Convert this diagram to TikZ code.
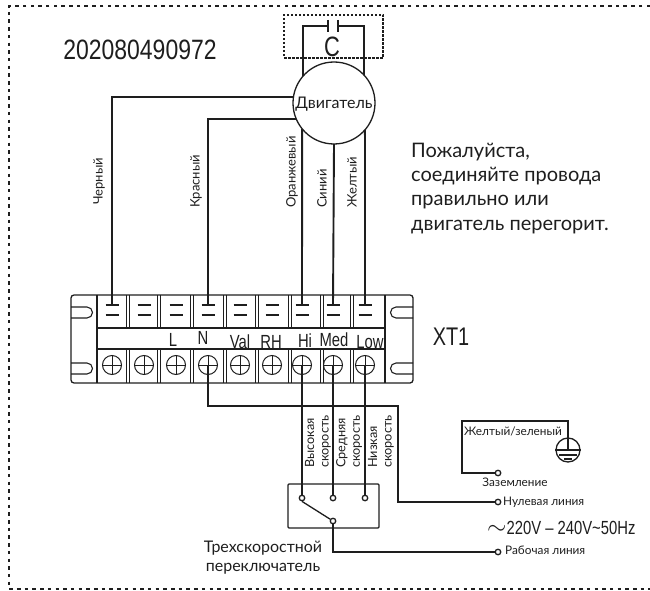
\documentclass[tikz,border=0pt]{standalone}
\usepackage{fontspec}
\setmainfont{Lato}
\newfontfamily\narrowfont[FakeStretch=0.78]{Liberation Sans}
\newfontfamily\serialfont[FakeStretch=0.82]{Liberation Sans}
\definecolor{inkdark}{HTML}{1E1E1E}
\begin{document}
\begin{tikzpicture}[x=1pt,y=-1pt,
	wire/.style={draw=inkdark,line width=1.9pt},
	thinwire/.style={draw=inkdark,line width=1.3pt},
	framestyle/.style={draw=inkdark,line width=1.5pt,dash pattern=on 3.5pt off 4.2pt},
	capstyle/.style={draw=inkdark,line width=1.7pt,dash pattern=on 2.5pt off 1.5pt},
	lugstyle/.style={minimum width=13pt,minimum height=10pt,inner sep=0pt,outer sep=0pt},
	screwstyle/.style={circle,draw=inkdark,line width=1pt,minimum size=19pt,inner sep=0pt,outer sep=0pt},
	endstyle/.style={circle,draw=inkdark,line width=1.3pt,fill=white,minimum size=5.5pt,inner sep=0pt},
	wiretext/.style={text=inkdark,font=\fontsize{13}{15}\selectfont,rotate=90,anchor=west,inner sep=0pt},
	speedtext/.style={text=inkdark,font=\fontsize{12.7}{14.5}\selectfont,rotate=90,anchor=west,inner sep=0pt,align=left},
	smalltext/.style={text=inkdark,font=\fontsize{11.8}{13}\selectfont,inner sep=0pt},
	termtext/.style={text=inkdark,font=\narrowfont\fontsize{19}{20}\selectfont,inner sep=0pt}]
	\useasboundingbox (0,0) rectangle (650,591);
	\draw[framestyle] (650,6) -- (9,6) -- (9,589) -- (650,589);

	\node[text=inkdark,font=\serialfont\fontsize{28}{30}\selectfont,inner sep=0pt] (serial) at (140,50) {202080490972};
	\node[text=inkdark,font=\fontsize{20}{24.2}\selectfont,align=left,anchor=north west,inner sep=0pt] (warning) at (411,143) {Пожалуйста,\\соединяйте провода\\правильно или\\двигатель перегорит.};

	\node[capstyle,minimum width=99pt,minimum height=43pt,inner sep=0pt] (capbox) at (333.5,36.5) {};
	\node[text=inkdark,font=\narrowfont\fontsize{28}{30}\selectfont,inner sep=0pt] (clabel) at (332,47) {C};
	\node[circle,draw=inkdark,line width=1.3pt,fill=white,minimum size=82pt,inner sep=0pt,outer sep=0pt] (mot) at (334,103) {};
	\node[text=inkdark,font=\fontsize{16}{18}\selectfont,inner sep=0pt] (motlabel) at (334,104) {Двигатель};
	\coordinate (plL) at (328,26);
	\coordinate (plR) at (338,26);
	\draw[thinwire] (mot.139) |- (plL) (mot.43) |- (plR);
	\draw[thinwire] (328,20) -- (328,32) (338,20) -- (338,32);

	\node[draw=inkdark,line width=1.3pt,rounded corners=3pt,minimum width=342pt,minimum height=88pt,inner sep=0pt,outer sep=0pt] (block) at (242,339) {};
	\draw[draw=inkdark,line width=1.2pt] (97,295) -- (97,383) (385,295) -- (385,383) (97,328) -- (385,328);
	\draw[draw=inkdark,line width=1.6pt] (97,349) -- (385,349);
	\foreach \x in {128,159,192,225,257,290,322,352} {
		\draw[draw=inkdark,line width=1pt] ({\x-1.5},295) -- ({\x-1.5},328) ({\x+1.5},295) -- ({\x+1.5},328);
		\draw[draw=inkdark,line width=1pt] ({\x-1.5},349) -- ({\x-1.5},383) ({\x+1.5},349) -- ({\x+1.5},383);}
	\foreach \y in {307,363} {
		\draw[draw=inkdark,line width=1.1pt] (71,\y) -- (87,\y) arc (-90:90:5.5) -- (71,\y+11);
		\draw[draw=inkdark,line width=1.1pt] (413,\y) -- (396,\y) arc (-90:-270:5.5) -- (413,\y+11);}
	\foreach \x [count=\i] in {112,144,176,208,240,272,302,333,365} {
		\node[lugstyle] (lug\i) at (\x,310) {};
		\node[screwstyle] (sc\i) at (\x,365) {};
		\draw[draw=inkdark,line width=1.1pt] (lug\i.north west) -- (lug\i.north east) (lug\i.south west) -- (lug\i.south east);
		\draw[draw=inkdark,line width=1pt] (sc\i.north) -- (sc\i.south) (sc\i.west) -- (sc\i.east);}
	\foreach \t/\x/\y in {L/173/340,N/203/338,Val/240/342,RH/271/342,Hi/305/341,Med/334/340,Low/370/342}
		\node[termtext] (tag\t) at (\x,\y) {\t};
	\node[text=inkdark,font=\narrowfont\fontsize{25.5}{27}\selectfont,inner sep=0pt] (xt) at (451,337) {XT1};

	\draw[wire] (lug1.north) |- (mot.172);
	\draw[thinwire] (lug4.north) |- (mot.203);
	\draw[wire] (lug7.north) -- (mot.219);
	\draw[wire] (lug8.north) -- (mot.270);
	\draw[wire] (lug9.north) -- (mot.319);
	\node[wiretext] (black) at (99,205) {Черный};
	\node[wiretext] (red) at (196,208) {Красный};
	\node[wiretext] (orange) at (292,208) {Оранжевый};
	\node[wiretext] (blue) at (322,208) {Синий};
	\node[wiretext] (yellow) at (352,208) {Желтый};

	\node[draw=inkdark,line width=1.3pt,rounded corners=1pt,minimum width=91pt,minimum height=44pt,inner sep=0pt] (swbox) at (333.5,506) {};
	\node[endstyle] (sw1) at (302,498) {};
	\node[endstyle] (sw2) at (333,498) {};
	\node[endstyle] (sw3) at (365,498) {};
	\node[endstyle] (swc) at (333,521) {};
	\node[endstyle] (ntrm) at (498,502) {};
	\node[endstyle] (ltrm) at (498,552) {};
	\node[endstyle] (gtrm) at (498,473) {};
	\coordinate (nbend) at (398,406);
	\coordinate (gbend) at (462,421);
	\draw[wire] (sc7.center) -- (sw1);
	\draw[wire] (sc8.center) -- (sw2);
	\draw[wire] (sc9.center) -- (sw3);
	\draw[wire] (sc4.center) |- (nbend) |- (ntrm);
	\draw[thinwire] (swc) |- (ltrm);
	\draw[thinwire] (sw1.south) -- (swc);

	\node[speedtext] (high) at (318,468) {Высокая\\скорость};
	\node[speedtext] (mid) at (349,468) {Средняя\\скорость};
	\node[speedtext] (low) at (381,468) {Низкая\\скорость};
	\node[text=inkdark,font=\fontsize{16}{19}\selectfont,align=center,inner sep=0pt] (swlabel) at (263,558) {Трехскоростной\\переключатель};

	\node[circle,draw=inkdark,line width=1.3pt,minimum size=24pt,inner sep=0pt] (gnd) at (568,450) {};
	\draw[thinwire] (gtrm) -| (gbend) -| (gnd.center);
	\draw[draw=inkdark,line width=1.2pt] (gnd.west) -- (gnd.east) (559,455) -- (577,455) (564,459) -- (572,459);
	\node[smalltext] (gwire) at (513,431) {Желтый/зеленый};
	\node[smalltext] (glabel) at (515,482) {Заземление};
	\node[smalltext,anchor=west] (nlabel) at (503,502) {Нулевая линия};
	\node[smalltext,anchor=west] (llabel) at (505,550) {Рабочая линия};
	\node[text=inkdark,font=\narrowfont\fontsize{19}{21}\selectfont,inner sep=0pt,anchor=west] (volt) at (487,528) {{\fontsize{26}{26}\selectfont$\sim$}220V – 240V\textasciitilde50Hz};
\end{tikzpicture}
\end{document}
